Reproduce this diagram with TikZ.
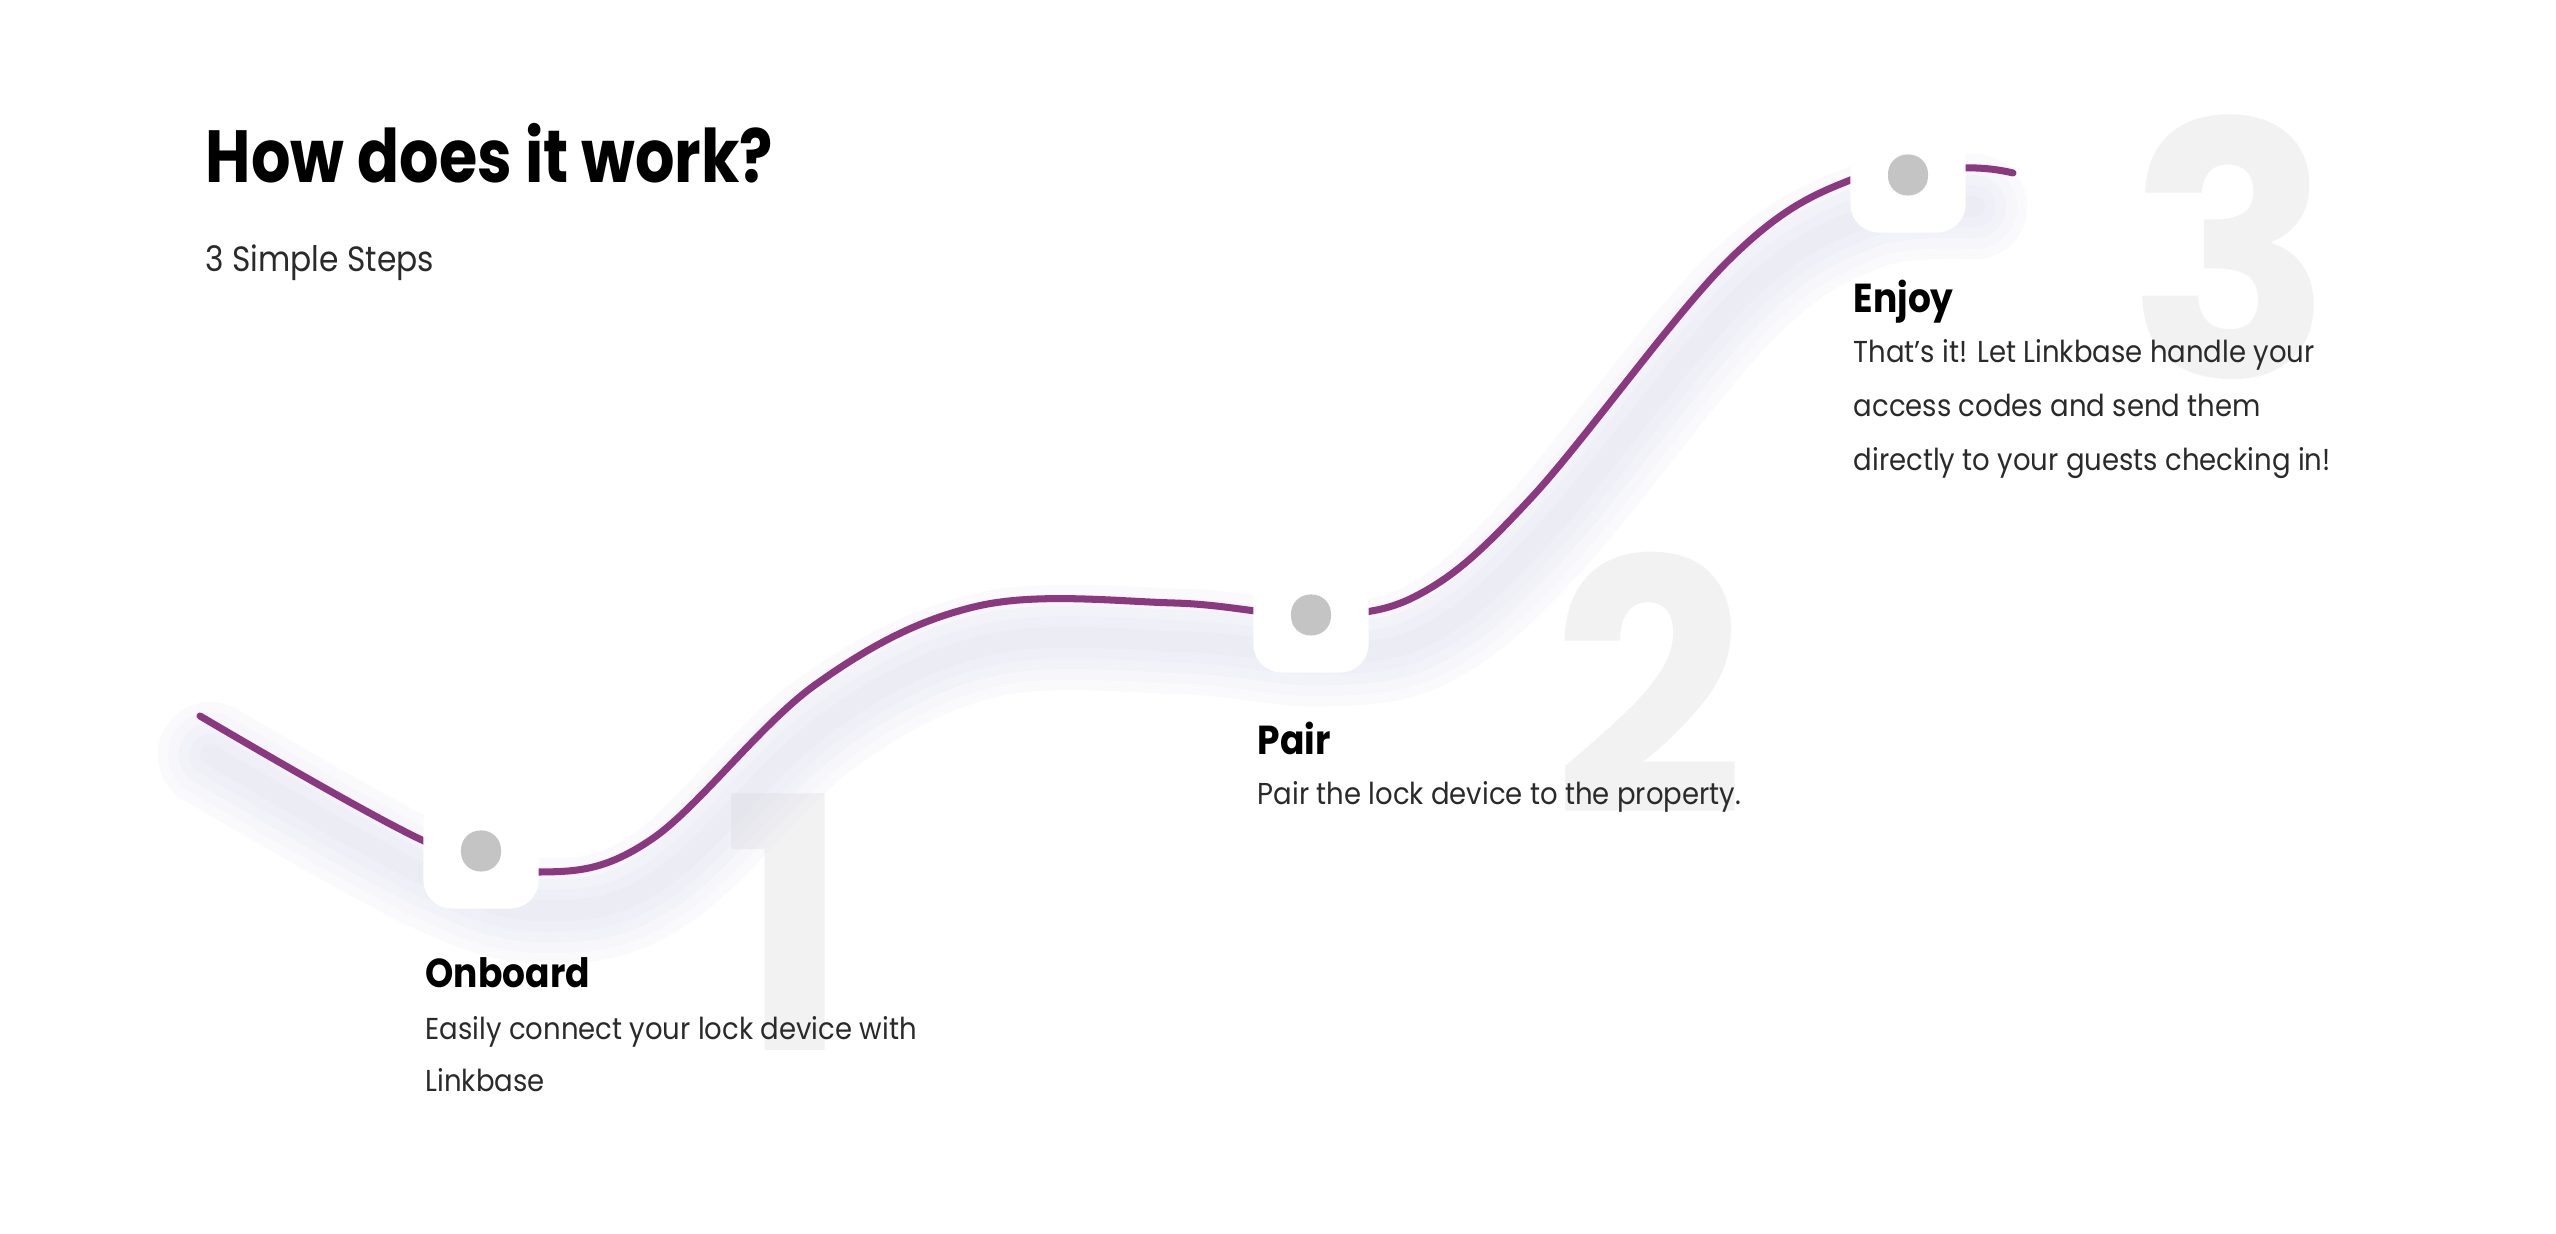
\documentclass[tikz,border=0pt]{standalone}
\usepackage{fontspec}
\setmainfont{Poppins}[FakeStretch=0.91]
\newfontfamily\titlefont{Poppins}[FakeStretch=0.84]
\newfontfamily\headfont{Poppins}[FakeStretch=0.89]
\newfontfamily\numfont{Poppins}[FakeStretch=0.96]
\usetikzlibrary{positioning}
\definecolor{linkPurple}{RGB}{138,57,128}
\definecolor{glowLilac}{RGB}{214,214,236}
\definecolor{dotGrey}{RGB}{196,196,196}
\definecolor{digitGrey}{RGB}{242,242,242}
\definecolor{bodyGrey}{RGB}{42,42,42}

\begin{document}
\begin{tikzpicture}[
            x=0.01cm, y=-0.01cm,
            headline/.style={anchor=base west, inner sep=0pt, font=\titlefont\fontsize{21}{21}\selectfont\bfseries},
            subline/.style={anchor=base west, inner sep=0pt, text=bodyGrey, font=\headfont\fontsize{10}{10}\selectfont},
            stephead/.style={anchor=base west, inner sep=0pt, font=\headfont\fontsize{11.5}{11.5}\selectfont\bfseries},
            stepbody/.style={anchor=base west, inner sep=0pt, text=bodyGrey, font=\fontsize{8.6}{8.6}\selectfont},
            bignum/.style={anchor=base west, inner sep=0pt, text=digitGrey, font=\numfont\fontsize{100}{100}\selectfont\bfseries},
            holder/.style={rectangle, rounded corners=8pt, fill=white, minimum width=1.15cm, minimum height=1.15cm, inner sep=0pt},
            pin/.style={rectangle, rounded corners=5.5pt, fill=dotGrey, minimum width=0.4cm, minimum height=0.41cm, inner sep=0pt},
            trail/.style={draw=linkPurple, line width=2pt, line cap=round},
            glow/.style={draw=glowLilac, opacity=0.1, line cap=round, yshift=-11pt, xshift=3pt}
        ]
            \useasboundingbox[fill=white] (0,0) rectangle (2556,1234);

            % big step numbers in the back
            \node[bignum] (n1) at (722,1051) {1};
            \node[bignum] (n2) at (1552,815) {2};
            \node[bignum] (n3) at (2128,378) {3};

            \coordinate (start) at (200,716);
            \coordinate (stop) at (2013,173);

            % soft shadow under the path
            \foreach \w in {30pt,24pt,18pt,12pt,6pt}
                \draw[glow, line width=\w] plot[smooth, tension=0.6] coordinates {(200,716) (424,841) (540,872) (652,839) (815,685) (978,606) (1174,603) (1311,615) (1418,595) (1532,497) (1728,261) (1853,179) (1964,168)};

            \draw[trail] plot[smooth, tension=0.6] coordinates {(start) (424,841) (540,872) (652,839) (815,685) (978,606) (1174,603) (1311,615) (1418,595) (1532,497) (1728,261) (1853,179) (1964,168) (stop)};

            % markers
            \node[holder] (m1) at (481,851) {};
            \node[holder] (m2) at (1311,615) {};
            \node[holder] (m3) at (1908,175) {};
            \node[pin] at (m1) {};
            \node[pin] at (m2) {};
            \node[pin] at (m3) {};

            \node[headline] (title) at (205,183) {How does it work?};
            \node[subline] (sub) at (205,272) {3 Simple Steps};

            % step 1
            \node[stephead] (h1) at (425,988) {Onboard};
            \node[stepbody] (b1a) at (425,1040) {Easily connect your lock device with};
            \node[stepbody] (b1b) at (425,1092) {Linkbase};
            % step 2
            \node[stephead] (h2) at (1257,755) {Pair};
            \node[stepbody] (b2a) at (1257,805) {Pair the lock device to the property.};
            % step 3
            \node[stephead] (h3) at (1853,313) {Enjoy};
            \node[stepbody] (b3a) at (1853,363) {That’s it! Let Linkbase handle your};
            \node[stepbody] (b3b) at (1853,417) {access codes and send them};
            \node[stepbody] (b3c) at (1853,471) {directly to your guests checking in!};
\end{tikzpicture}
\end{document}
